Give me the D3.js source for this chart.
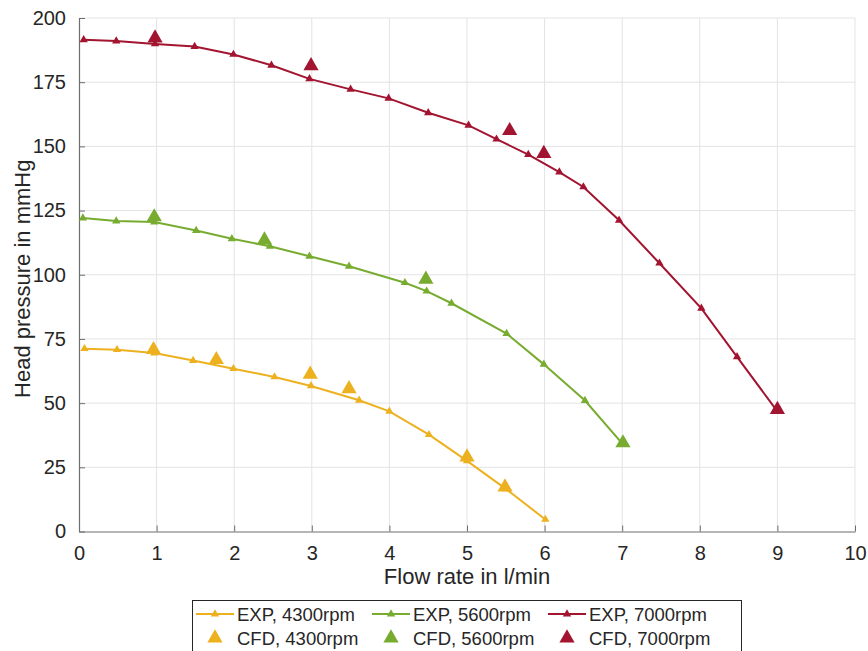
<!DOCTYPE html>
<html>
<head>
<meta charset="utf-8">
<script src="https://cdn.jsdelivr.net/npm/d3@7"></script>
<style>
  body { margin: 0; background: #fff; }
  svg text { font-family: "Liberation Sans", Arial, Helvetica, sans-serif; fill: #262626; }
</style>
</head>
<body>
<svg id="chart" width="868" height="651"></svg>
<script>
// --- data ---
var exp4300X = [0.07, 0.49, 0.97, 1.47, 1.99, 2.52, 2.99, 3.61, 4.00, 4.51, 5.00, 5.50, 6.01];
var exp4300Y = [71.2, 70.8, 69.5, 66.6, 63.4, 60.2, 56.7, 51.1, 46.8, 37.7, 27.5, 16.6, 4.7];
var cfd4300X = [0.96, 1.77, 2.98, 3.48, 5.00, 5.49];
var cfd4300Y = [70.8, 66.9, 61.2, 55.6, 29.0, 17.3];

var exp5600X = [0.05, 0.48, 0.97, 1.51, 1.97, 2.46, 2.97, 3.48, 4.20, 4.48, 4.80, 5.51, 5.99, 6.52, 7.01];
var exp5600Y = [122.1, 120.9, 120.5, 117.2, 114.0, 111.1, 107.2, 103.3, 96.9, 93.6, 88.9, 77.1, 65.1, 51.0, 33.9];
var cfd5600X = [0.97, 2.39, 4.47, 7.01];
var cfd5600Y = [122.5, 113.5, 98.2, 34.5];

var exp7000X = [0.06, 0.48, 0.98, 1.49, 1.99, 2.48, 2.97, 3.50, 3.99, 4.50, 5.02, 5.38, 5.79, 6.19, 6.50, 6.96, 7.48, 8.02, 8.48, 8.99];
var exp7000Y = [191.5, 191.0, 189.9, 188.9, 185.8, 181.6, 176.3, 172.2, 168.7, 163.1, 158.2, 152.8, 146.8, 140.0, 134.2, 121.2, 104.5, 86.9, 68.0, 47.2];
var cfd7000X = [0.98, 2.99, 5.55, 5.99, 9.00];
var cfd7000Y = [192.2, 181.4, 156.1, 147.2, 47.5];

var xTicks = [0, 1, 2, 3, 4, 5, 6, 7, 8, 9, 10];
var yTicks = [0, 25, 50, 75, 100, 125, 150, 175, 200];

(function() {
    'use strict';

    var series = [
        { name: "4300rpm", color: "#EDB120", ex: exp4300X, ey: exp4300Y, cx: cfd4300X, cy: cfd4300Y },
        { name: "5600rpm", color: "#77AC30", ex: exp5600X, ey: exp5600Y, cx: cfd5600X, cy: cfd5600Y },
        { name: "7000rpm", color: "#A2142F", ex: exp7000X, ey: exp7000Y, cx: cfd7000X, cy: cfd7000Y }
    ];

    var svg = d3.select("#chart"),
        x0 = 79, x1 = 855, y0 = 531.5, y1 = 18;

    var x = d3.scaleLinear().domain([0, 10]).range([x0, x1]);
    var y = d3.scaleLinear().domain([0, 200]).range([y0, y1]);

    // grid
    var grid = svg.append("g").attr("stroke", "#e3e3e3").attr("stroke-width", 1);
    grid.selectAll("line.gx").data(xTicks.slice(1)).enter().append("line")
        .attr("x1", function(d) { return x(d); }).attr("x2", function(d) { return x(d); })
        .attr("y1", y1).attr("y2", y0);
    grid.selectAll("line.gy").data(yTicks.slice(1)).enter().append("line")
        .attr("y1", function(d) { return y(d); }).attr("y2", function(d) { return y(d); })
        .attr("x1", x0).attr("x2", x1);

    // axes, ticks inward like MATLAB
    var xAxis = svg.append("g")
        .attr("transform", "translate(0," + y0 + ")")
        .call(d3.axisBottom(x).tickValues(xTicks).tickSizeInner(-6).tickSizeOuter(0).tickPadding(14));
    var yAxis = svg.append("g")
        .attr("transform", "translate(" + x0 + ",0)")
        .call(d3.axisLeft(y).tickValues(yTicks).tickSizeInner(-6).tickSizeOuter(0).tickPadding(13));

    [xAxis, yAxis].forEach(function(a) {
        a.select(".domain").attr("stroke", "#6e6e6e").attr("stroke-width", 1.2);
        a.selectAll(".tick line").attr("stroke", "#6e6e6e");
        a.selectAll(".tick text").attr("font-size", 20).attr("fill", "#262626");
    });

    svg.append("text")
        .attr("x", (x0 + x1) / 2).attr("y", 584)
        .attr("text-anchor", "middle").attr("font-size", 22)
        .text("Flow rate in l/min");

    svg.append("text")
        .attr("transform", "translate(30," + ((y0 + y1) / 2 + 4) + ") rotate(-90)")
        .attr("text-anchor", "middle").attr("font-size", 22)
        .text("Head pressure in mmHg");

    var small = d3.symbol().type(d3.symbolTriangle).size(30);
    var big = d3.symbol().type(d3.symbolTriangle).size(100);

    var line = d3.line()
        .x(function(d) { return x(d[0]); })
        .y(function(d) { return y(d[1]); });

    series.forEach(function(s) {
        var expPts = d3.zip(s.ex, s.ey),
            cfdPts = d3.zip(s.cx, s.cy);

        svg.append("path")
            .datum(expPts)
            .attr("fill", "none")
            .attr("stroke", s.color)
            .attr("stroke-width", 2)
            .attr("d", line);

        svg.append("g").selectAll("path").data(expPts).enter().append("path")
            .attr("d", small)
            .attr("fill", s.color)
            .attr("transform", function(d) { return "translate(" + x(d[0]) + "," + y(d[1]) + ")"; });

        svg.append("g").selectAll("path").data(cfdPts).enter().append("path")
            .attr("d", big)
            .attr("fill", s.color)
            .attr("transform", function(d) { return "translate(" + x(d[0]) + "," + y(d[1]) + ")"; });
    });

    // legend
    var legend = svg.append("g");
    legend.append("rect")
        .attr("x", 192.5).attr("y", 600.5).attr("width", 549).attr("height", 60)
        .attr("fill", "#fff").attr("stroke", "#262626").attr("stroke-width", 1);

    var colX = [196, 372, 548];
    series.forEach(function(s, i) {
        var cx = colX[i];
        legend.append("line")
            .attr("x1", cx).attr("x2", cx + 38).attr("y1", 614).attr("y2", 614)
            .attr("stroke", s.color).attr("stroke-width", 2);
        legend.append("path").attr("d", small).attr("fill", s.color)
            .attr("transform", "translate(" + (cx + 19) + ",614)");
        legend.append("text").attr("x", cx + 41).attr("y", 621).attr("font-size", 18.5)
            .text("EXP, " + s.name);

        legend.append("path").attr("d", big).attr("fill", s.color)
            .attr("transform", "translate(" + (cx + 19) + ",638)");
        legend.append("text").attr("x", cx + 41).attr("y", 645).attr("font-size", 18.5)
            .text("CFD, " + s.name);
    });
})();
</script>
</body>
</html>
